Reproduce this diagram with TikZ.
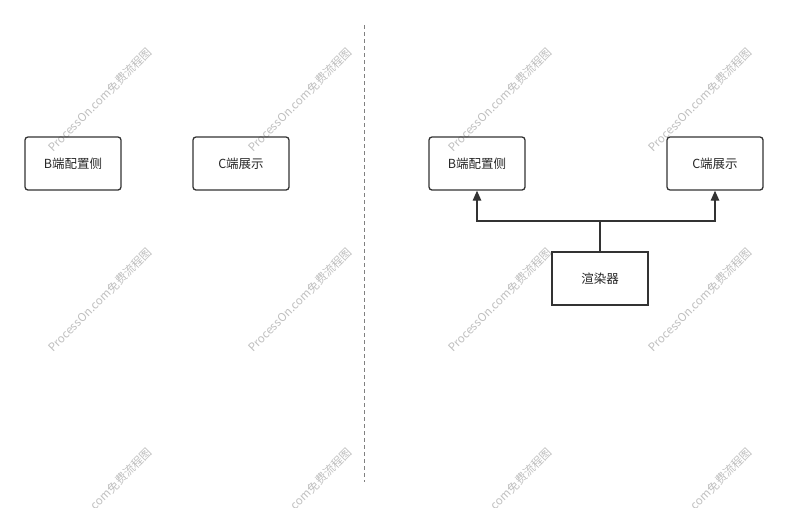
\documentclass[tikz,border=0pt]{standalone}
\usepackage{fontspec}
\newfontfamily\cjk{Noto Sans CJK SC}
\usetikzlibrary{arrows.meta}
\begin{document}
\begin{tikzpicture}[x=1pt, y=-1pt,
    box/.style={draw=black!80, line width=1.3pt, minimum width=96pt,
      minimum height=53pt, inner sep=0pt, text=black!85,
      font=\cjk\fontsize{12.5}{14}\selectfont},
    cardbox/.style={box, rounded corners=3pt},
    wmark/.style={text=black!25, rotate=45, inner sep=0pt,
      font=\cjk\fontsize{11.5}{13}\selectfont},
    link/.style={draw=black!80, line width=1.3pt},
    arrowlink/.style={link, -{Triangle[length=10pt, width=8.5pt]}}]
  \useasboundingbox (0, 0) rectangle (788, 507);
  \clip (0, 0) rectangle (788, 507);
  % watermark
  \foreach \wx in {100, 300, 500, 700}
    \foreach \wy in {100, 300, 500}
      \node[wmark] (wm-\wx-\wy) at (\wx, \wy) {ProcessOn.com免费流程图};
  % separator
  \coordinate (sep-top) at (364, 25);
  \coordinate (sep-bot) at (364, 482);
  \draw [black!50, dash pattern=on 4pt off 3pt] (sep-top) -- (sep-bot);
  % left: before
  \node[cardbox] (lb) at (73, 163.5) {B端配置侧};
  \node[cardbox] (lc) at (241, 163.5) {C端展示};
  % right: after
  \node[cardbox] (rb) at (477, 163.5) {B端配置侧};
  \node[cardbox] (rc) at (715, 163.5) {C端展示};
  \node[box] (ren) at (600, 278.5) {渲染器};
  \coordinate (split) at (600, 221);
  \draw [link] (ren.north) -- (split);
  \draw [arrowlink] (split) -| (rb.south);
  \draw [arrowlink] (split) -| (rc.south);
\end{tikzpicture}
\end{document}
